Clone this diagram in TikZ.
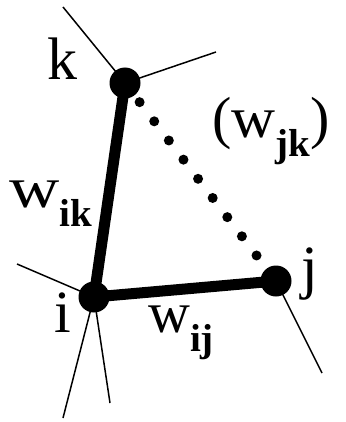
\documentclass[tikz,border=0pt]{standalone}
\usepackage{fontspec}
\setmainfont{Liberation Serif}
\newcommand{\wlab}[2][1]{\scalebox{#1}[1]{w}\raisebox{-19pt}{\fontsize{39}{39}\selectfont\bfseries #2}}
\tikzset{
  vertex/.style={circle,fill=black,draw=none,minimum size=31pt,inner sep=0pt},
  bond/.style={line width=11pt},
  leg/.style={line width=1.5pt},
  weak/.style={line width=10pt,line cap=round,dash pattern=on 0pt off 24.1pt},
  lbl/.style={anchor=base west,inner sep=0pt,font=\fontsize{60}{62}\selectfont},
  wlbl/.style={anchor=base west,inner sep=0pt,font=\fontsize{58}{60}\selectfont}
}
\begin{document}
\begin{tikzpicture}[x=1pt,y=-1pt]
\useasboundingbox (0,0) rectangle (345,422);
% sites
\node[vertex] (k) at (125,83) {};
\node[vertex] (i) at (94,297) {};
\node[vertex] (j) at (276,281) {};
% loose ends
\coordinate (k1) at (63,7);
\coordinate (k2) at (216,52);
\coordinate (i1) at (17,264);
\coordinate (i2) at (63,418);
\coordinate (i3) at (110,403);
\coordinate (j1) at (322,373);
\draw[leg] (k.center) -- (k1);
\draw[leg] (k.center) -- (k2);
\draw[leg] (i.center) -- (i1);
\draw[leg] (i.center) -- (i2);
\draw[leg] (i.center) -- (i3);
\draw[leg] (j.center) -- (j1);
% couplings
\draw[bond] (k.center) -- (i.center);
\draw[bond] (i.center) -- (j.center);
\draw[weak] (k.center) -- (j.center);
% labels
\node[lbl] (kl) at (47,80) {k};
\node[lbl] (il) at (54,332) {i};
\node[lbl] (jl) at (301,287) {j};
\node[wlbl] (wik) at (9,207) {\wlab[1.2]{ik}};
\node[wlbl] (wij) at (148,332) {\wlab{ij}};
\node[wlbl] (wjk) at (212,138) {(\wlab[1.05]{jk})};
\end{tikzpicture}
\end{document}
